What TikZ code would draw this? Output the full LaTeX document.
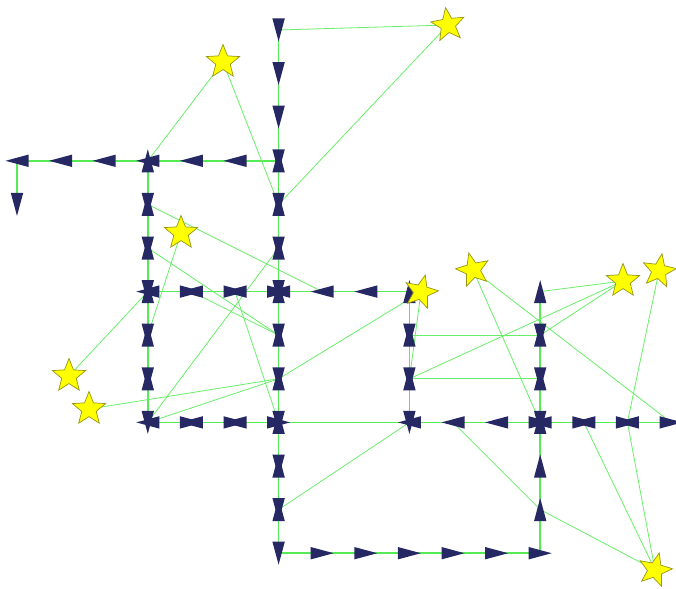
\documentclass[tikz,border=0pt]{standalone}
\definecolor{markfill}{RGB}{38,40,100}
\definecolor{mainline}{RGB}{85,235,85}
\definecolor{thinline}{RGB}{105,238,105}
\definecolor{starfill}{RGB}{255,255,0}
\definecolor{stardraw}{RGB}{150,150,20}
\tikzset{
  mainedge/.style={draw=mainline, line width=1.7},
  thinedge/.style={draw=thinline, line width=0.8},
  mk/.pic={\fill[markfill] (11.5,0) -- (-11.5,-6.2) -- (-11.5,6.2) -- cycle;},
  starmark/.pic={\path[fill=starfill, draw=stardraw, line width=0.7]
     (-90:17.5) -- (-54:7.6) -- (-18:17.5) -- (18:7.6) -- (54:17.5) -- (90:7.6)
     -- (126:17.5) -- (162:7.6) -- (198:17.5) -- (234:7.6) -- cycle;}
}
% directions: 0 right, 90 up, 180 left, 270 down
\newcommand\putmarks[2]{\foreach \d in {#2} {\pic[rotate=\d] at (#1) {mk};}}
\begin{document}
\begin{tikzpicture}[x=1pt,y=-1pt]
\useasboundingbox (0,0) rectangle (676,588);
% grid of bend points
\foreach \i in {0,...,15} {
  \foreach \j in {0,...,12} {
    \coordinate (g\i-\j) at ({17+43.6*\i},{30+43.6*\j});
  }
}
% star positions
\coordinate (s1) at (448,25);
\coordinate (s2) at (223,62);
\coordinate (s3) at (181,233);
\coordinate (s4) at (69,376);
\coordinate (s5) at (89,409);
\coordinate (s6) at (421,292);
\coordinate (s7) at (473,270);
\coordinate (s8) at (623,281);
\coordinate (s9) at (659,271);
\coordinate (s10) at (655,570);

% orthogonal routes
\draw[mainedge] (g6-0) -- (g6-12) -- (g12-12) -- (g12-6);
\draw[mainedge] (g0-4) -- (g0-3) -- (g6-3);
\draw[mainedge] (g3-3) -- (g3-9);
\draw[mainedge] (g3-6) -- (g9-6) -- (g9-9);
\draw[mainedge] (g3-9) -- (g15-9);

% straight links
\draw[thinedge] (s1) -- (g6-0);
\draw[thinedge] (s1) -- (g6-4);
\draw[thinedge] (s2) -- (g3-3);
\draw[thinedge] (s2) -- (g6-4);
\draw[thinedge] (g3-4) -- (g7-6);
\draw[thinedge] (s3) -- (g3-7);
\draw[thinedge] (s4) -- (g3-6);
\draw[thinedge] (s5) -- (g6-8);
\draw[thinedge] (g3-5) -- (g6-7);
\draw[thinedge] (g4-6) -- (g6-7);
\draw[thinedge] (g5-6) -- (g6-9);
\draw[thinedge] (g3-9) -- (g6-5);
\draw[thinedge] (g3-9) -- (g6-8);
\draw[thinedge] (g6-8) -- (s6);
\draw[thinedge] (s6) -- (g9-8);
\draw[thinedge] (g9-7) -- (g12-7);
\draw[thinedge] (g9-8) -- (g12-8);
\draw[thinedge] (s8) -- (g12-6);
\draw[thinedge] (s8) -- (g12-7);
\draw[thinedge] (s8) -- (g9-8);
\draw[thinedge] (s7) -- (g12-9);
\draw[thinedge] (s7) -- (g15-9);
\draw[thinedge] (s9) -- (g14-9);
\draw[thinedge] (g14-9) -- (s10);
\draw[thinedge] (g13-9) -- (s10);
\draw[thinedge] (g12-11) -- (s10);
\draw[thinedge] (g10-9) -- (g12-11);
\draw[thinedge] (g9-9) -- (g6-11);

% arrow marks: column 6
\putmarks{g6-0}{270}
\putmarks{g6-1}{270}
\putmarks{g6-2}{270}
\putmarks{g6-3}{270,90}
\putmarks{g6-4}{270,90}
\putmarks{g6-5}{270,90}
\putmarks{g6-6}{270,90,180,0}
\putmarks{g6-7}{270,90}
\putmarks{g6-8}{270,90}
\putmarks{g6-9}{270,90,0}
\putmarks{g6-10}{270,90}
\putmarks{g6-11}{270,90}
\putmarks{g6-12}{270}
% bottom row
\foreach \i in {7,...,12} {\putmarks{g\i-12}{0}}
% column 12
\putmarks{g12-11}{90}
\putmarks{g12-10}{90}
\putmarks{g12-9}{90,270,180,0}
\putmarks{g12-8}{90,270}
\putmarks{g12-7}{90,270}
\putmarks{g12-6}{90}
% top-left row
\foreach \i in {0,1,2,4,5} {\putmarks{g\i-3}{180}}
\putmarks{g3-3}{180,90}
\putmarks{g0-4}{270}
% column 3
\putmarks{g3-4}{90,270}
\putmarks{g3-5}{90,270}
\putmarks{g3-6}{90,270,180}
\putmarks{g3-7}{90,270}
\putmarks{g3-8}{90,270}
\putmarks{g3-9}{270,180}
% middle row
\putmarks{g4-6}{180,0}
\putmarks{g5-6}{180,0}
\putmarks{g7-6}{180}
\putmarks{g8-6}{180}
\putmarks{g9-6}{90}
% column 9
\putmarks{g9-7}{90,270}
\putmarks{g9-8}{90,270}
\putmarks{g9-9}{270,180}
% lower row
\putmarks{g4-9}{180,0}
\putmarks{g5-9}{180,0}
\putmarks{g10-9}{180}
\putmarks{g11-9}{180}
\putmarks{g13-9}{180,0}
\putmarks{g14-9}{180,0}
\putmarks{g15-9}{0}

% stars
\pic[rotate=8] at (s1) {starmark};
\pic at (s2) {starmark};
\pic at (s3) {starmark};
\pic at (s4) {starmark};
\pic at (s5) {starmark};
\pic[rotate=-14] at (s6) {starmark};
\pic[rotate=14] at (s7) {starmark};
\pic at (s8) {starmark};
\pic[rotate=-10] at (s9) {starmark};
\pic[rotate=-14] at (s10) {starmark};
\end{tikzpicture}
\end{document}
